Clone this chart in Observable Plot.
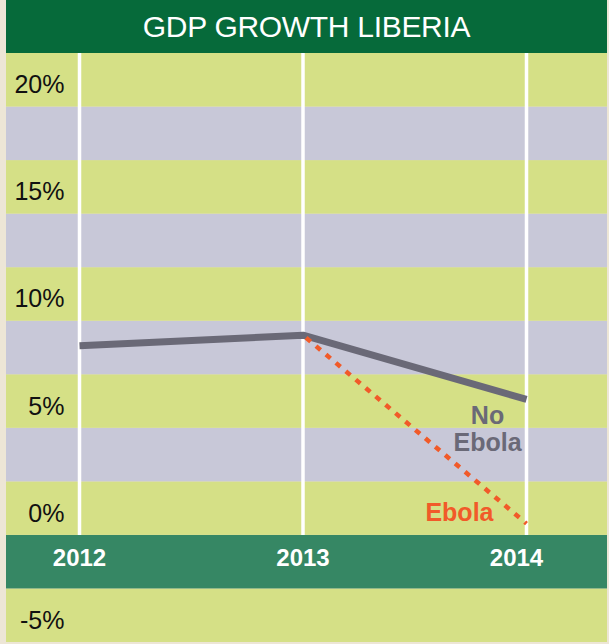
<!DOCTYPE html>
<html>
<head>
<meta charset="utf-8">
<script src="https://cdn.jsdelivr.net/npm/d3@7"></script>
<script src="https://cdn.jsdelivr.net/npm/@observablehq/plot@0.6"></script>
<style>
  html, body { margin: 0; padding: 0; background: #ede6d6; }
  #wrap { position: absolute; left: 6px; top: 0; width: 601px; }
  #title {
    height: 53px; line-height: 53px; background: #066a3a; color: #fff;
    font-family: "Liberation Sans", Arial, Helvetica, sans-serif;
    font-size: 30px; text-align: center; letter-spacing: -0.3px;
  }
  #chart svg { display: block; }
</style>
</head>
<body>
<div id="wrap">
  <div id="title">GDP GROWTH LIBERIA</div>
  <div id="chart"></div>
</div>
<script>
// Data
const years = [2012, 2013, 2014];
const noEbola = [7.6, 8.1, 5.1];
const ebolaYears = [2013, 2014];
const ebola = [8.1, -0.7];
const yTicks = [-5, 0, 5, 10, 15, 20];
const yTickLabels = ["-5%", "0%", "5%", "10%", "15%", "20%"];

const noEbolaData = years.map((y, i) => ({year: y, value: noEbola[i]}));
const ebolaData = ebolaYears.map((y, i) => ({year: y, value: ebola[i]}));

// background bands every 2.5%
const green = "#d5e086", lavender = "#c8c8d8", axisGreen = "#368764";
const bandStarts = d3.range(-6.25, 21.25, 2.5);
const bands = bandStarts.map((b, i) => ({
  y1: b, y2: b + 2.5,
  fill: i === 0 ? green : i === 1 ? axisGreen : ((i - 2) % 2 === 0 ? green : lavender)
}));

const W = 601, H = 589;
const pxPerYear = 223.5;
const xDomain = [2012 - 73 / pxPerYear, 2014 + (W - 520) / pxPerYear];

const font = '"Liberation Sans", Arial, Helvetica, sans-serif';

const chart = Plot.plot({
  width: W, height: H,
  margin: 0,
  style: {fontFamily: font, background: "transparent", overflow: "visible"},
  x: {domain: xDomain, axis: null},
  y: {domain: [-6.25, 21.25], axis: null},
  marks: [
    Plot.rect(bands, {y1: "y1", y2: "y2", fill: d => d.fill}),
    Plot.ruleX(years, {x: d => d, y1: -1.25, y2: 21.25, stroke: "#fff", strokeWidth: 3.5}),
    Plot.line(noEbolaData, {x: "year", y: "value", stroke: "#6a6977", strokeWidth: 7,
      strokeLinecap: "butt", strokeLinejoin: "miter"}),
    Plot.line(ebolaData, {x: "year", y: "value", stroke: "#f15a29", strokeWidth: 4.5,
      strokeDasharray: "6,7", strokeDashoffset: -4, strokeLinecap: "butt"}),
    Plot.text(yTicks, {y: d => d, text: (d, i) => yTickLabels[i], frameAnchor: "left",
      textAnchor: "end", dx: 58, dy: 5, fontSize: 25, fill: "#111"}),
    Plot.text(years.filter(y => y < 2014), {x: d => d, y: -2.5, text: d => String(d), dy: -4,
      fill: "#fff", fontSize: 24, fontWeight: "bold"}),
    Plot.text(years.filter(y => y === 2014), {x: d => d, y: -2.5, text: d => String(d), dy: -4, dx: -10,
      fill: "#fff", fontSize: 24, fontWeight: "bold"}),
    Plot.text(noEbolaData.slice(-1), {x: "year", y: "value", text: () => "No\nEbola",
      dx: -39, dy: 29, lineHeight: 1.08, textAnchor: "middle", fill: "#6a6977",
      fontSize: 25, fontWeight: "bold"}),
    Plot.text(ebolaData.slice(-1), {x: "year", y: "value", text: () => "Ebola",
      dx: -33, dy: -11, textAnchor: "end", fill: "#f15a29",
      fontSize: 25, fontWeight: "bold"})
  ]
});
document.getElementById("chart").appendChild(chart);
</script>
</body>
</html>
